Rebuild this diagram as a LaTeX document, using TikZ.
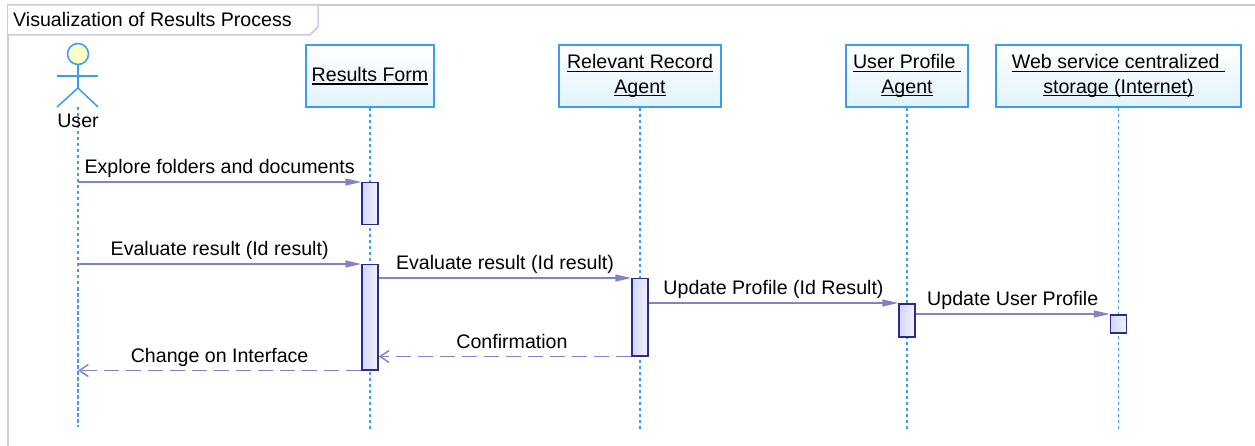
\documentclass[tikz,border=0pt]{standalone}
\usepackage{fontspec}
\setmainfont{Liberation Sans}
\usetikzlibrary{arrows.meta,positioning}
\definecolor{lifeblue}{HTML}{3C9CF0}
\definecolor{boxfill}{HTML}{E2F2FC}
\definecolor{actborder}{HTML}{2B2B8C}
\definecolor{actfill}{HTML}{D4D4F6}
\definecolor{msgcol}{HTML}{8282C4}
\definecolor{framecol}{HTML}{CACAE4}
\definecolor{headfill}{HTML}{FFFFC8}
% underline at a fixed distance below the baseline
\newcommand{\undl}[1]{\setbox0\hbox{#1}\rlap{\rule[-3pt]{\wd0}{1.2pt}}\box0}
\begin{document}
\begin{tikzpicture}[x=1pt, y=-1pt,
  font=\fontsize{19.6}{24.5}\selectfont,
  obj/.style={draw=lifeblue, line width=1.5pt, top color=white, bottom color=boxfill, minimum height=62pt, align=center, inner sep=2pt},
  life/.style={lifeblue, line width=1.5pt, dash pattern=on 3.5pt off 2.5pt},
  act/.style={draw=actborder, line width=1.5pt, left color=actfill, right color=actfill!30, minimum width=16pt, inner sep=0pt, anchor=north},
  msg/.style={msgcol, line width=1.5pt, -{Triangle[length=16pt,width=7pt]}},
  ret/.style={msgcol, line width=1.5pt, dash pattern=on 15pt off 7pt, -{Straight Barb[length=9pt,width=12pt]}},
  lbl/.style={midway, anchor=base, yshift=8.5pt, inner sep=0pt, text=black}]
\useasboundingbox (0,0) rectangle (1255,446);
% frame and title tab
\draw[framecol, line width=1.5pt] (8,446) -- (8,5) -- (1255,5);
\draw[framecol, line width=1.5pt, fill=white] (8,5) -- (318,5) -- (318,27) -- (310,35) -- (8,35);
\node[anchor=base west, inner sep=0pt] (title) at (13,27) {Visualization of Results Process};
% actor
\node[circle, draw=lifeblue, fill=headfill, line width=1.5pt, minimum size=21pt, inner sep=0pt] (head) at (78,54) {};
\coordinate (hip) at (78,88);
\draw[lifeblue, line width=1.5pt] (head.south) -- (hip);
\draw[lifeblue, line width=1.5pt] (57,76) -- (98,76);
\draw[lifeblue, line width=1.5pt] (57,107) -- (hip) -- (98,107);
\coordinate (userlife) at (78,107);
\coordinate (userend) at (78,427);
\draw[life] (userlife) -- (userend);
\node[anchor=base] (user) at (78,128) {User};
% objects
\node[obj, minimum width=128pt] (form) at (370,76) {\undl{Results Form}};
\node[obj, minimum width=162pt] (record) at (640,76) {\undl{Relevant Record}\\\undl{Agent}};
\node[obj, minimum width=122pt] (profile) at (907,76) {\undl{User Profile }\\\undl{Agent}};
\node[obj, minimum width=245pt] (storage) at (1118.5,76) {\undl{Web service centralized }\\\undl{storage (Internet)}};
\coordinate (formend) at (370,431);
\coordinate (recordend) at (640,431);
\coordinate (profileend) at (907,431);
\coordinate (storageend) at (1118.5,431);
\draw[life] (form.south) -- (formend);
\draw[life] (record.south) -- (recordend);
\draw[life] (profile.south) -- (profileend);
\draw[life] (storage.south) -- (storageend);
% activations
\node[act, minimum height=42pt] (form1) at (370,182) {};
\node[act, minimum height=105pt] (form2) at (370,264) {};
\node[act, minimum height=77pt] (record1) at (640,278) {};
\node[act, minimum height=33pt] (profile1) at (907,303) {};
\node[act, minimum height=18pt] (storage1) at (1118.5,314) {};
% messages
\coordinate (u1) at (78,182);
\coordinate (u2) at (78,264);
\draw[msg] (u1) -- (form1.north west) node[lbl] {Explore folders and documents};
\draw[msg] (u2) -- (form2.north west) node[lbl] {Evaluate result (Id result)};
\draw[msg] (form2.east |- record1.north) -- (record1.north west) node[lbl] {Evaluate result (Id result)};
\draw[msg] (record1.east |- profile1.north) -- (profile1.north west) node[lbl] {Update Profile (Id Result)};
\draw[msg] (profile1.east |- storage1.north) -- (storage1.north west) node[lbl] {Update User Profile};
\draw[ret] (record1.south west) -- (form2.east |- record1.south) node[lbl, xshift=7pt] {Confirmation};
\draw[ret] (form2.south west) -- (form2.south west -| u1) node[lbl] {Change on Interface};
\end{tikzpicture}
\end{document}
